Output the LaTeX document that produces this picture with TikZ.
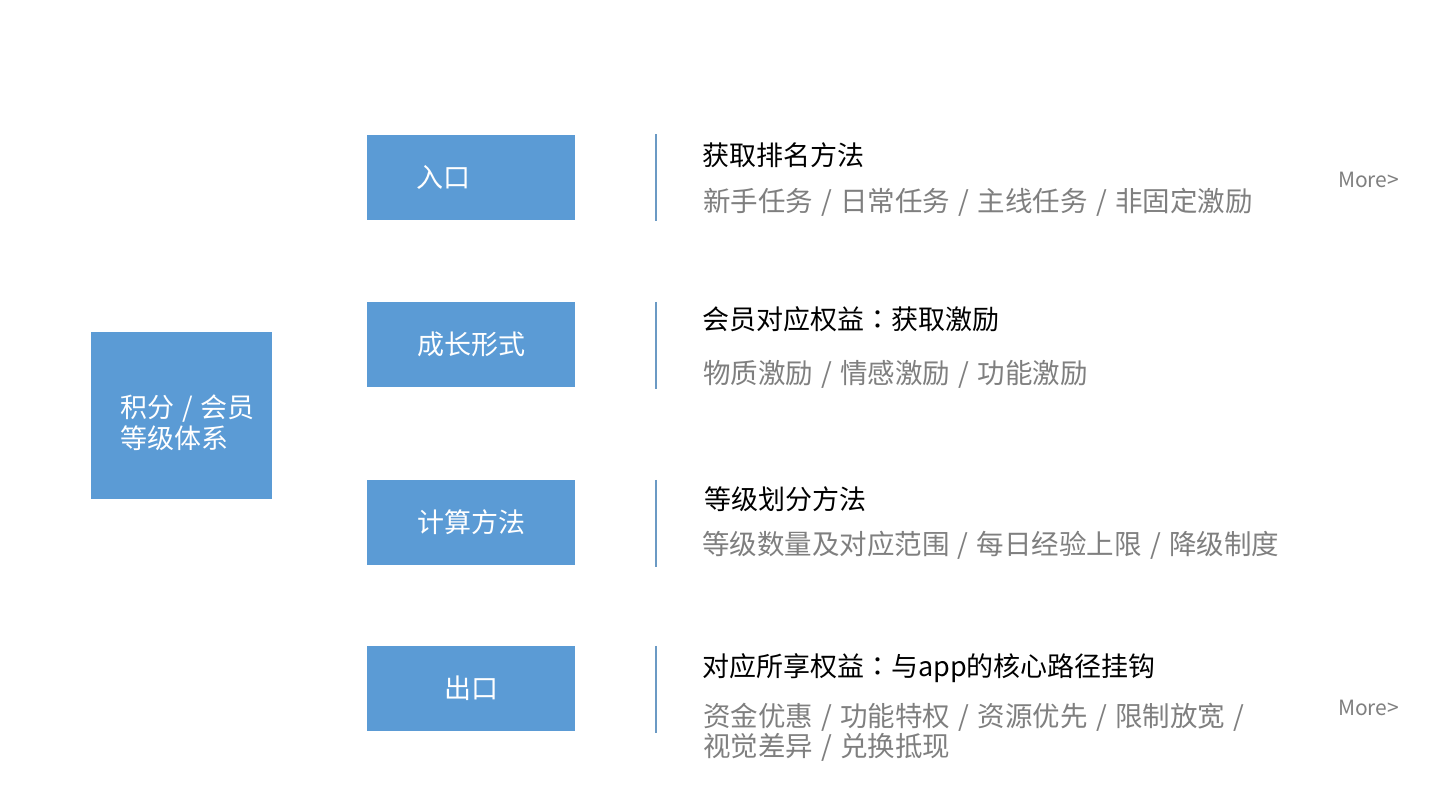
\documentclass[tikz,border=0pt]{standalone}
\usepackage{fontspec}
\setmainfont{Noto Sans CJK SC}
\newfontfamily\tcfont{Noto Sans CJK TC}
\definecolor{boxblue}{HTML}{5B9BD5}
\definecolor{bargray}{HTML}{6B9AC4}
\definecolor{txtgray}{HTML}{7F7F7F}
\newcommand\slsep{\hspace{0.3em}/\hspace{0.3em}}
\newcommand\cjkcolon{{\tcfont ：}}
\begin{document}
\begin{tikzpicture}[x=1pt,y=-1pt,
  bluebox/.style={fill=boxblue, draw=none, text=white, minimum width=208pt, minimum height=85pt, inner sep=0pt, font=\fontsize{27}{31}\selectfont},
  titletext/.style={anchor=west, inner sep=0pt, text=black, font=\fontsize{27}{31}\selectfont},
  subtext/.style={anchor=west, inner sep=0pt, text=txtgray, align=left, font=\fontsize{27.5}{30}\selectfont},
  moretext/.style={anchor=west, inner sep=0pt, text=txtgray, font=\fontsize{21}{24}\selectfont},
  sidebar/.style={draw=bargray, line width=2pt}]
\useasboundingbox (0,0) rectangle (1450,808);
\fill[white] (0,0) rectangle (1450,808);

\node[fill=boxblue, text=white, minimum height=167pt, text width=123pt, inner xsep=29pt, inner ysep=0pt, align=left, font=\fontsize{27}{31}\selectfont] (sys) at (181.5,415.5) {\rule{0pt}{37pt}\mbox{积分\slsep 会员}\\等级体系};

\node[bluebox, text width=110pt, inner xsep=49pt] (b1) at (471,177) {入口};
\node[bluebox] (b2) at (471,344.5) {成长形式};
\node[bluebox] (b3) at (471,522.5) {计算方法};
\node[bluebox] (b4) at (471,688.5) {出口};

\foreach \b in {b1,b2,b3,b4}{
  \draw[sidebar] ([xshift=81pt]\b.north east) -- ([xshift=81pt,yshift=-1.5pt]\b.south east);
}

\node[titletext] (t1) at (702,155) {获取排名方法};
\node[subtext] (s1) at (703,202.5) {新手任务\slsep 日常任务\slsep 主线任务\slsep 非固定激励};
\node[moretext] (m1) at (1338,180) {More>};

\node[titletext] (t2) at (702,319) {会员对应权益\cjkcolon 获取激励};
\node[subtext] (s2) at (703,374) {物质激励\slsep 情感激励\slsep 功能激励};

\node[titletext] (t3) at (704,499) {等级划分方法};
\node[subtext] (s3) at (702,545) {等级数量及对应范围\slsep 每日经验上限\slsep 降级制度};

\node[titletext] (t4) at (702,668) {对应所享权益\cjkcolon 与app的核心路径挂钩};
\node[subtext] (s4) at (703,732.5) {资金优惠\slsep 功能特权\slsep 资源优先\slsep 限制放宽\hspace{0.3em}/\\视觉差异\slsep 兑换抵现};
\node[moretext] (m2) at (1338,708) {More>};
\end{tikzpicture}
\end{document}
